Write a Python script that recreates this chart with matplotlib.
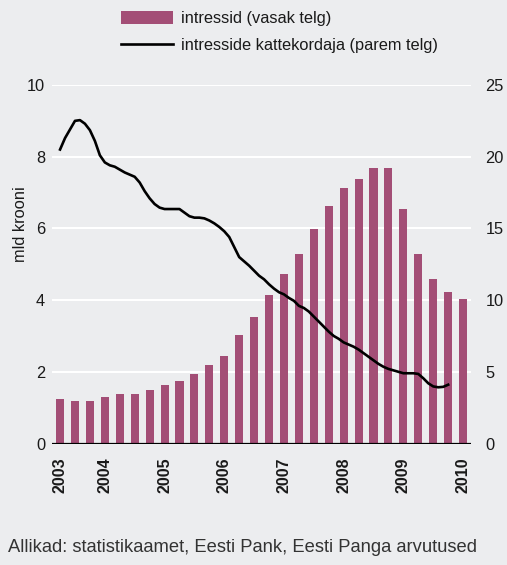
import matplotlib
matplotlib.use("Agg")
import matplotlib.pyplot as plt
from matplotlib.patches import Patch
from matplotlib.lines import Line2D
import numpy as np

plt.rcParams['font.family'] = ['Liberation Sans', 'DejaVu Sans']

# Quarterly interest payments (left axis, bn kroons), 2003Q2 .. 2010Q1
interest = [1.24, 1.19, 1.19, 1.30, 1.38, 1.38, 1.49, 1.63, 1.74, 1.94,
            2.19, 2.44, 3.03, 3.53, 4.14, 4.73, 5.29, 5.98, 6.62, 7.12,
            7.37, 7.68, 7.68, 6.54, 5.29, 4.59, 4.22, 4.03]

# Monthly interest coverage ratio (right axis), 2003 Apr .. 2009 Oct
coverage = [20.5, 21.3, 21.9, 22.5, 22.55, 22.3, 21.85, 21.1, 20.1, 19.6,
            19.4, 19.3, 19.1, 18.9, 18.75, 18.6, 18.2, 17.6, 17.1, 16.7,
            16.45, 16.35, 16.35, 16.35, 16.35, 16.1, 15.85, 15.75, 15.75, 15.7,
            15.55, 15.35, 15.1, 14.8, 14.4, 13.7, 13.0, 12.7, 12.4, 12.05,
            11.7, 11.45, 11.1, 10.8, 10.55, 10.4, 10.15, 9.95, 9.6, 9.45,
            9.2, 8.85, 8.5, 8.15, 7.8, 7.5, 7.3, 7.05, 6.9, 6.75,
            6.55, 6.3, 6.05, 5.8, 5.55, 5.35, 5.2, 5.1, 5.0, 4.9,
            4.9, 4.9, 4.85, 4.55, 4.2, 3.98, 3.92, 3.95, 4.1]

year_labels = ['2003', '2004', '2005', '2006', '2007', '2008', '2009', '2010']
year_pos = [0, 3, 7, 11, 15, 19, 23, 27]

left_ticks = [0, 2, 4, 6, 8, 10]
right_ticks = [0, 5, 10, 15, 20, 25]

bg = '#ECEDEF'
bar_color = '#A34E76'
txt = '#1a1a1a'
fs = 11.8

W, H = 507, 565
fig = plt.figure(figsize=(W / 100, H / 100), dpi=100, facecolor=bg)
ax = fig.add_axes([52 / W, (H - 443.5) / H, 419 / W, 358.5 / H])
ax.set_facecolor(bg)

x_bars = np.arange(len(interest))
ax.bar(x_bars, interest, width=0.54, color=bar_color, zorder=2)
ax.set_xlim(-0.54, 27.53)
ax.set_ylim(0, 10)
ax.set_yticks(left_ticks)
ax.yaxis.grid(True, color='white', linewidth=1.5, zorder=0)
ax.set_axisbelow(True)
for s in ax.spines.values():
    s.set_visible(False)
ax.tick_params(axis='y', length=0, pad=5, labelsize=fs, labelcolor=txt)
ax.set_xticks(year_pos)
ax.set_xticklabels(year_labels, rotation=90, fontweight='bold')
ax.tick_params(axis='x', length=0, pad=10, labelsize=11.5, labelcolor=txt)
ax.axhline(0, color='black', linewidth=1.6, zorder=5)

ax2 = ax.twinx()
x_line = np.arange(len(coverage)) / 3.0
ax2.plot(x_line, coverage, color='black', linewidth=1.9, zorder=4)
ax2.set_ylim(0, 25)
ax2.set_yticks(right_ticks)
for s in ax2.spines.values():
    s.set_visible(False)
ax2.tick_params(axis='y', length=0, pad=10.5, labelsize=fs, labelcolor=txt)
ax2.set_xlim(-0.54, 27.53)

fig.text(21 / W, 1 - 224 / H, 'mld krooni', rotation=90, ha='center', va='center',
         fontsize=fs, color=txt)

handles = [Patch(facecolor=bar_color, edgecolor='none'),
           Line2D([0], [0], color='black', linewidth=1.9)]
labels = ['intressid (vasak telg)', 'intresside kattekordaja (parem telg)']
fig.legend(handles, labels, loc='upper left', bbox_to_anchor=(121 / W, 1 - 11 / H),
           frameon=False, borderpad=0, borderaxespad=0, fontsize=fs,
           handlelength=3.2, handleheight=0.8, handletextpad=0.45,
           labelspacing=0.72, labelcolor=txt)

fig.text(8 / W, 1 - 547 / H, 'Allikad: statistikaamet, Eesti Pank, Eesti Panga arvutused',
         ha='left', va='center', fontsize=13.2, color='#333333')

fig.savefig('out.png', dpi=100, facecolor=bg)
